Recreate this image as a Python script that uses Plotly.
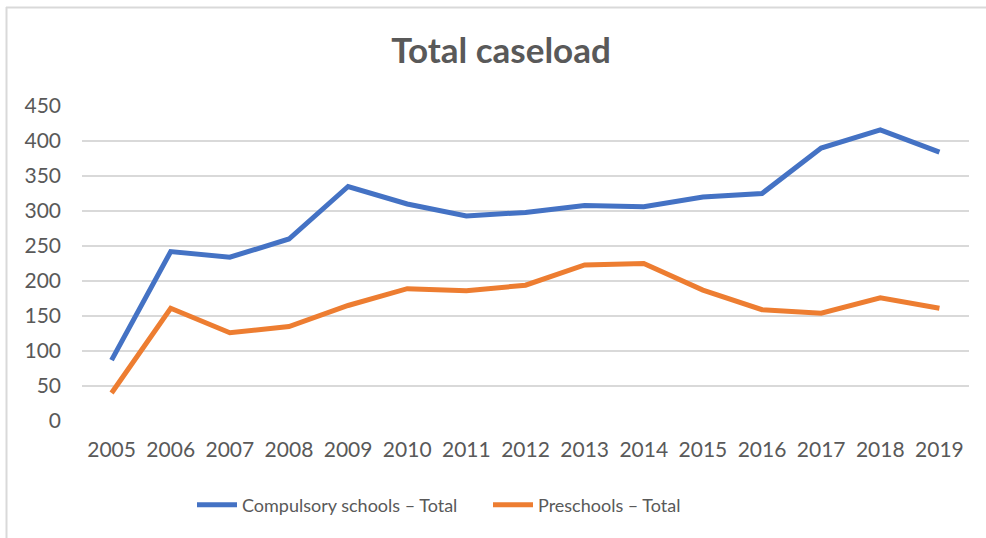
import plotly.graph_objects as go

years = ["2005", "2006", "2007", "2008", "2009", "2010", "2011", "2012",
         "2013", "2014", "2015", "2016", "2017", "2018", "2019"]
compulsory_total = [87, 242, 234, 260, 335, 310, 293, 298, 308, 306, 320, 325, 390, 416, 384]
preschool_total = [40, 161, 126, 135, 165, 189, 186, 194, 223, 225, 187, 159, 154, 176, 161]
y_ticks = [0, 50, 100, 150, 200, 250, 300, 350, 400, 450]

W, H = 986, 538
L, R, T, B = 82, 17, 106, 117
FONT = "Lato"
GREY = "#595959"
GRID = "#d9d9d9"

fig = go.Figure()
fig.add_trace(go.Scatter(
    x=years, y=compulsory_total, mode="lines", name="Compulsory schools – Total",
    line=dict(color="#4472C4", width=5),
))
fig.add_trace(go.Scatter(
    x=years, y=preschool_total, mode="lines", name="Preschools – Total",
    line=dict(color="#ED7D31", width=5),
))

pw, ph = W - L - R, H - T - B


def px_x(v):
    return (v - L) / pw


def px_y(v):
    return (H - B - v) / ph


# thin frame along the top and left edge of the chart area
frame = [
    dict(x0=px_x(6), x1=px_x(W), y0=px_y(7.5), y1=px_y(7.5)),
    dict(x0=px_x(6.5), x1=px_x(6.5), y0=px_y(7), y1=px_y(H)),
]
shapes = [dict(type="line", xref="paper", yref="paper", line=dict(color=GRID, width=2), **f)
          for f in frame]

fig.update_layout(
    width=W, height=H,
    margin=dict(l=L, r=R, t=T, b=B),
    paper_bgcolor="white", plot_bgcolor="white",
    font=dict(family=FONT, color=GREY, size=18),
    title=dict(text="<b>Total caseload</b>", x=501 / W, xanchor="center",
               y=1 - 51 / H, yanchor="middle",
               font=dict(family=FONT, size=35, color=GREY)),
    showlegend=True,
    legend=dict(orientation="h", x=488 / W, xanchor="center",
                xref="container", y=1 - 505 / H, yref="container", yanchor="middle",
                font=dict(family=FONT, size=18, color=GREY),
                itemwidth=40, entrywidth=241, entrywidthmode="pixels",
                bgcolor="rgba(0,0,0,0)"),
    shapes=shapes,
)
fig.update_xaxes(
    type="category", range=[-0.5, len(years) - 0.5],
    showgrid=False, showline=False, zeroline=False, ticks="",
    ticklabelstandoff=14, tickfont=dict(family=FONT, size=21, color=GREY),
)
fig.update_yaxes(
    range=[0, 450], tickvals=y_ticks, showgrid=True, gridcolor=GRID, gridwidth=1.5,
    zeroline=False, showline=False, ticks="",
    ticklabelstandoff=20, tickfont=dict(family=FONT, size=21, color=GREY),
)

fig.write_html("out.html")
